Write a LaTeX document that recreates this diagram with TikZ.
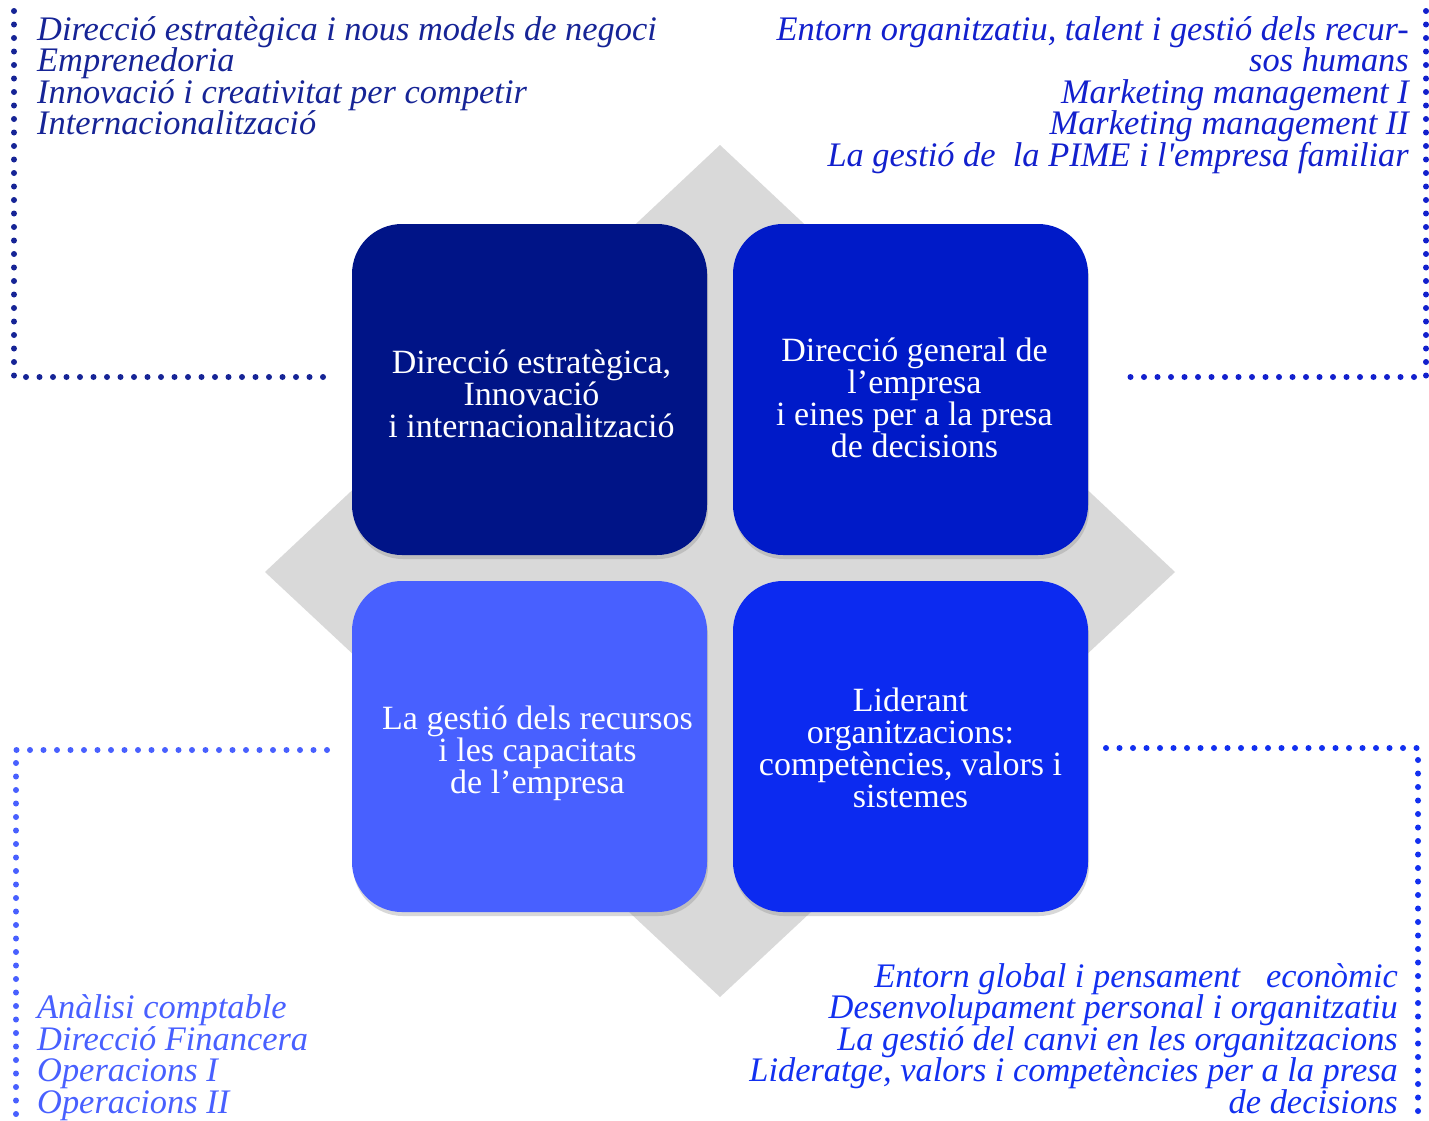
\documentclass[tikz,border=0pt]{standalone}
\usepackage{fontspec}
\setmainfont{Liberation Serif}
\newfontfamily\straightfam{Liberation Serif}
\usetikzlibrary{shadows}
\definecolor{gdiam}{RGB}{217,217,217}
\definecolor{cA}{RGB}{0,20,135}
\definecolor{cB}{RGB}{0,26,200}
\definecolor{cC}{RGB}{72,96,255}
\definecolor{cD}{RGB}{12,42,240}
\definecolor{tA}{RGB}{22,36,150}
\definecolor{tB}{RGB}{18,32,205}
\definecolor{tC}{RGB}{72,96,255}
\definecolor{tD}{RGB}{18,48,240}
\tikzset{
  quad/.style={rounded corners=50pt, minimum width=355pt, minimum height=331pt,
    inner sep=0pt,
    drop shadow={opacity=0.3, shadow xshift=1pt, shadow yshift=-4pt}},
  quadtext/.style={text=white, align=center, inner sep=0pt,
    font=\fontsize{34}{32}\selectfont},
  dots/.style={line width=6pt, line cap=round, dash pattern=on 0pt off 13.5pt},
  course/.style={font=\fontsize{34.4}{31.5}\selectfont\itshape, inner sep=0pt},
}
\begin{document}
\begin{tikzpicture}[x=1pt,y=-1pt]
\useasboundingbox (0,0) rectangle (1429,1120);
\fill[white] (0,0) rectangle (1429,1120);

% grey diamond
\fill[gdiam] (720,145) -- (1175,572) -- (720,997) -- (265,572) -- cycle;

% four boxes
\node[quad, fill=cA] (tl) at (529.5,389.5) {};
\node[quad, fill=cB] (tr) at (910.5,389.5) {};
\node[quad, fill=cC] (bl) at (529.5,746.5) {};
\node[quad, fill=cD] (br) at (910.5,746.5) {};
\node[quadtext, xshift=2pt, yshift=-4pt] (tlt) at (tl.center) {Direcció estratègica,\\ Innovació\\ i internacionalització};
\node[quadtext, xshift=4pt, yshift=-8pt] (trt) at (tr.center) {Direcció general de\\ l’empresa\\ i eines per a la presa\\ de decisions};
\node[quadtext, xshift=8pt, yshift=-7pt] (blt) at (bl.center) {La gestió dels recursos\\ i les capacitats\\ de l’empresa};
\node[quadtext, yshift=-1pt] (brt) at (br.center) {Liderant\\ organitzacions:\\ competències, valors i\\ sistemes};

% dotted frames
\draw[dots, tA] (14,11) -- (14,377) -- (326,377);
\draw[dots, tB] (1426,11) -- (1426,377) -- (1118,377);
\draw[dots, tC] (327,750) -- (16,750) -- (16,1120);
\draw[dots, tD] (1106,748) -- (1418,748) -- (1418,1120);

% course lists
\foreach \t [count=\i] in {Direcció estratègica i nous models de negoci, Emprenedoria, Innovació i creativitat per competir, Internacionalització}
  \node[course, text=tA, anchor=base west, name=la\i] at (37,{40+31.5*(\i-1)}) {\t};

\foreach \t [count=\i] in {{Entorn organitzatiu, talent i gestió dels recur-}, sos humans, Marketing management I, Marketing management II, La gestió de\ \ la PIME i l{\straightfam '}empresa familiar}
  \node[course, text=tB, anchor=base east, name=lb\i] at (1409,{40+31.5*(\i-1)}) {\t};

\foreach \t [count=\i] in {Anàlisi comptable, Direcció Financera, Operacions I, Operacions II}
  \node[course, text=tC, anchor=base west, name=lc\i] at (37,{1018.5+31.5*(\i-1)}) {\t};

\foreach \t [count=\i] in {Entorn global i pensament\ \ \ econòmic, Desenvolupament personal i organitzatiu, La gestió del canvi en les organitzacions, {Lideratge, valors i competències per a la presa}, de decisions}
  \node[course, text=tD, anchor=base east, name=ld\i] at (1398,{987+31.5*(\i-1)}) {\t};
\end{tikzpicture}
\end{document}
